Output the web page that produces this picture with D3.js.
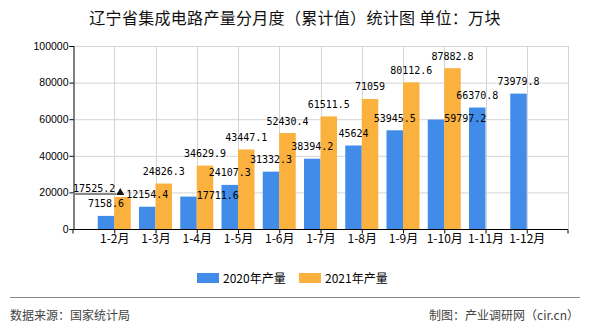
<!DOCTYPE html>
<html><head><meta charset="utf-8">
<script src="https://cdn.jsdelivr.net/npm/d3@7/dist/d3.min.js"></script>
<style>body{margin:0;background:#fff}svg{display:block}</style>
</head><body><svg id="c" width="590" height="330"></svg>
<script>
const categories = ["1-2月","1-3月","1-4月","1-5月","1-6月","1-7月","1-8月","1-9月","1-10月","1-11月","1-12月"];
const values2020 = [7158.6,12154.4,17711.6,24107.3,31332.3,38394.2,45624,53945.5,59797.2,66370.8,73979.8];
const values2021 = [17525.2,24826.3,34629.9,43447.1,52430.4,61511.5,71059,80112.6,87882.8,null,null];
const seriesNames = ["2020年产量","2021年产量"];
const yTicks = [0,20000,40000,60000,80000,100000];
const titleText = "辽宁省集成电路产量分月度（累计值）统计图 单位：万块";
const sourceText = "数据来源：国家统计局";
const creditText = "制图：产业调研网（cir.cn）";

// label placement tweaks (layout only)
const labelPlacement = {"1|1-2月":"left","0|1-4月":"right","0|1-10月":"right"};

const colors = ["#418be9","#fbb13d"];
const svg = d3.select("#c");
const L = 73, R = 568, T = 46, B = 229;

const x = d3.scalePoint().domain(categories).range([L, R]).padding(1);
const y = d3.scaleLinear().domain([0, 100000]).range([B, T]);
const bw = x.step() * 0.4;

// title
svg.append("text").attr("x", 295).attr("y", 24).attr("text-anchor","middle")
  .attr("font-family","'Noto Sans CJK SC',sans-serif").attr("font-size",16).attr("fill","#111")
  .attr("letter-spacing","0.3").text(titleText);

// gridlines
const g = svg.append("g");
g.selectAll(".hg").data(yTicks.slice(1)).join("line")
  .attr("x1", L).attr("x2", R).attr("y1", d=>y(d)+0.5).attr("y2", d=>y(d)+0.5)
  .attr("stroke","#d4d4d4").attr("stroke-width",1);
g.selectAll(".vg").data(categories).join("line")
  .attr("x1", d=>Math.round(x(d))+0.5).attr("x2", d=>Math.round(x(d))+0.5).attr("y1", T).attr("y2", B)
  .attr("stroke","#d4d4d4").attr("stroke-width",1);
g.append("line").attr("x1",R+0.5).attr("x2",R+0.5).attr("y1",T).attr("y2",B).attr("stroke","#d4d4d4");

// bars
const series = [values2020, values2021];
series.forEach((vals, si) => {
  svg.append("g").selectAll("rect").data(categories.map((c,i)=>({c, v: vals[i]})).filter(d=>d.v!=null))
    .join("rect")
    .attr("x", d => si===0 ? x(d.c) - bw : x(d.c))
    .attr("width", bw)
    .attr("y", d => y(d.v))
    .attr("height", d => B - y(d.v))
    .attr("fill", colors[si]);
});

// axes
const yAxis = d3.axisLeft(y).tickValues(yTicks).tickSize(4).tickFormat(d=>String(d));
const ya = svg.append("g").attr("transform",`translate(${L+0.5},0)`).call(yAxis);
ya.select(".domain").attr("stroke","#000");
ya.selectAll(".tick line").attr("stroke","#000");
ya.selectAll("text").attr("font-family","'Liberation Sans',Arial,sans-serif").attr("font-size",10.5).attr("fill","#000").attr("x",-5);

const xAxis = d3.axisBottom(x).tickSize(4).tickSizeOuter(4);
const xa = svg.append("g").attr("transform",`translate(0,${B+0.5})`).call(xAxis);
xa.select(".domain").attr("stroke","#000").attr("d", `M${L},4V0H${R}V4`);
xa.selectAll(".tick line").attr("stroke","#000");
xa.selectAll("text").attr("font-family","'Noto Sans CJK SC',sans-serif").attr("font-size",12).attr("fill","#000").attr("dy","0.65em").attr("y",6);

// decoration arrow near first category
svg.append("line").attr("x1",L).attr("x2",x(categories[0])+2).attr("y1",194).attr("y2",194)
  .attr("stroke","#888").attr("stroke-width",2);
svg.append("path").attr("d",`M${x(categories[0])+2},195 l4,-7 l4,7 z`).attr("fill","#111");

// value labels
series.forEach((vals, si) => {
  svg.append("g").selectAll("text").data(categories.map((c,i)=>({c, v: vals[i]})).filter(d=>d.v!=null))
    .join("text")
    .each(function(d){
      const left = si===0 ? x(d.c)-bw : x(d.c);
      const top = y(d.v);
      const mode = labelPlacement[si+"|"+d.c] || "top";
      const t = d3.select(this);
      if (mode === "left") t.attr("x", left+1).attr("y", top-5).attr("text-anchor","end");
      else if (mode === "right") t.attr("x", left+bw).attr("y", top+2.5).attr("text-anchor","start");
      else t.attr("x", left+bw/2).attr("y", top-8.5).attr("text-anchor","middle");
    })
    .attr("font-family","'DejaVu Sans Mono',monospace").attr("font-size",10).attr("fill","#000")
    .text(d=>String(d.v));
});

// legend
const lg = svg.append("g");
const legendX = [197, 299];
seriesNames.forEach((n,i)=>{
  lg.append("rect").attr("x",legendX[i]).attr("y",273).attr("width",22).attr("height",10).attr("fill",colors[i]);
  lg.append("text").attr("x",legendX[i]+26).attr("y",282.5).attr("font-family","'Noto Sans CJK SC',sans-serif")
    .attr("font-size",12).attr("fill","#000").text(n);
});

// separator & footer
svg.append("line").attr("x1",10).attr("x2",580).attr("y1",297.5).attr("y2",297.5).attr("stroke","#888").attr("stroke-width",1);
svg.append("text").attr("x",10).attr("y",320).attr("font-family","'Noto Sans CJK SC',sans-serif").attr("font-size",12).attr("fill","#444").text(sourceText);
svg.append("text").attr("x",579).attr("y",320).attr("text-anchor","end").attr("font-family","'Noto Sans CJK SC',sans-serif").attr("font-size",12).attr("fill","#444").text(creditText);
</script></body></html>
